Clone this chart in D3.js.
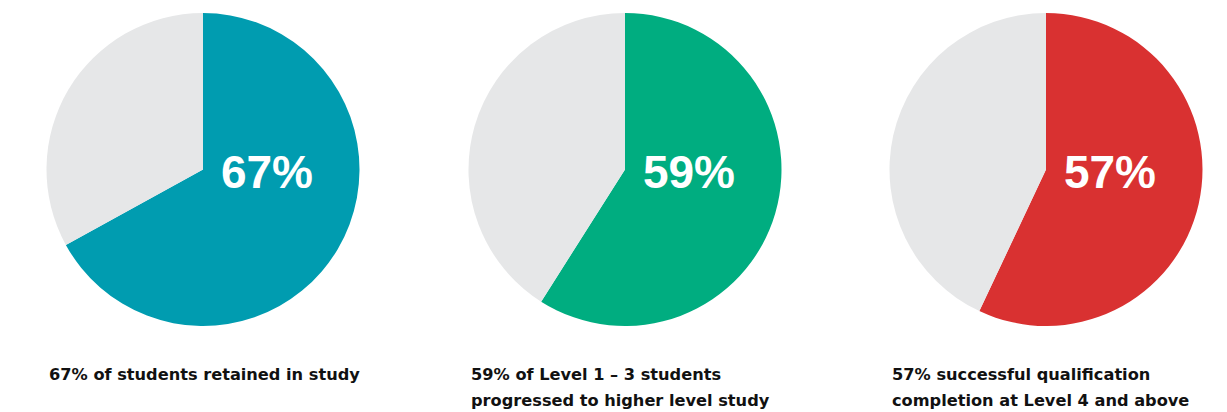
<!DOCTYPE html>
<html>
<head>
<meta charset="utf-8">
<script src="https://cdn.jsdelivr.net/npm/d3@7"></script>
<style>
    body { margin: 0; background: #fff; }
    svg { display: block; }
</style>
</head>
<body>
<div class="charts"></div>
<script>
// values
const percents = [67, 59, 57];
const colors = ["#009cb0", "#00ad80", "#d93131"];
const captions = [
    ["67% of students retained in study"],
    ["59% of Level 1 \u2013 3 students", "progressed to higher level study"],
    ["57% successful qualification", "completion at Level 4 and above"]
];

const width = 1227;
const height = 412;
const radius = 156.5;
const centersX = [203, 625, 1046];
const centerY = 169.5;
const rest = "#e6e7e8";

const svg = d3.select(".charts")
    .append("svg")
    .attr("width", width)
    .attr("height", height);

const pie = d3.pie()
    .value(d => d.value)
    .sort(null);

const arc = d3.arc()
    .innerRadius(0)
    .outerRadius(radius);

percents.forEach((p, i) => {
    const g = svg.append("g")
        .attr("transform", `translate(${centersX[i]}, ${centerY})`);

    const slices = [
        { value: p, color: colors[i] },
        { value: 100 - p, color: rest }
    ];

    g.selectAll("path")
        .data(pie(slices))
        .enter()
        .append("path")
        .attr("d", arc)
        .attr("fill", d => d.data.color);

    g.append("text")
        .attr("x", 64)
        .attr("y", 18)
        .attr("text-anchor", "middle")
        .style("font-family", "'Liberation Sans', Arial, sans-serif")
        .style("font-weight", "bold")
        .style("font-size", "46px")
        .style("fill", "#fff")
        .text(p + "%");

    const cap = svg.append("text")
        .attr("y", 380)
        .style("font-family", "'DejaVu Sans', sans-serif")
        .style("font-weight", "bold")
        .style("font-size", "16.2px")
        .style("fill", "#111");

    cap.selectAll("tspan")
        .data(captions[i])
        .enter()
        .append("tspan")
        .attr("x", centersX[i] - 154)
        .attr("dy", (d, j) => j === 0 ? 0 : 26)
        .text(d => d);
});
</script>
</body>
</html>
